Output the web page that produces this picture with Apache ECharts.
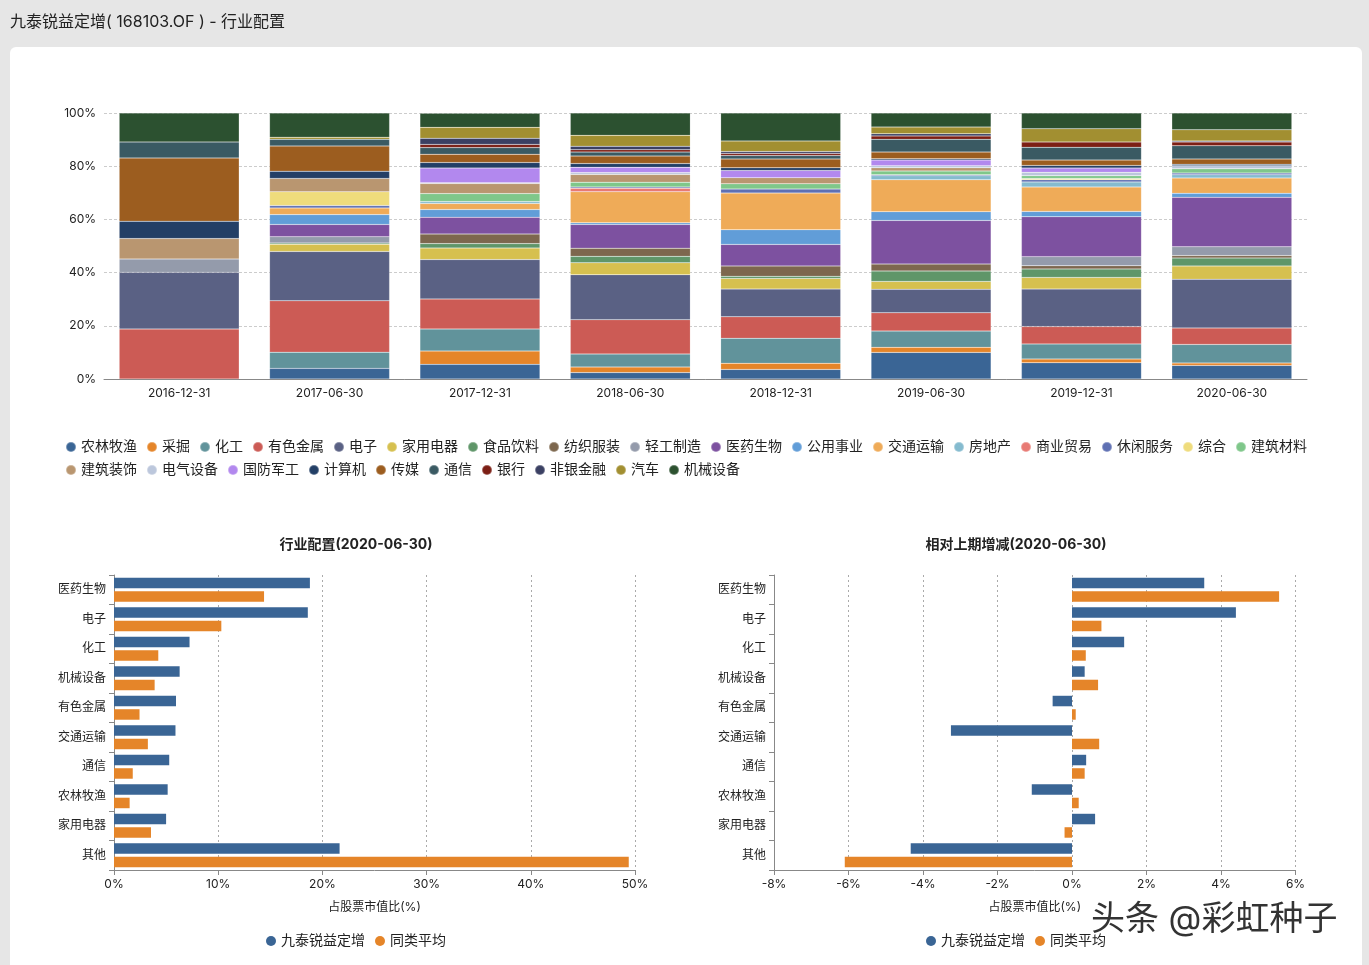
<!DOCTYPE html>
<html>
<head>
<meta charset="utf-8">
<title>行业配置</title>
<script src="https://cdn.jsdelivr.net/npm/echarts@6/dist/echarts.min.js"></script>
<style>
  html, body { margin: 0; padding: 0; background: #e6e6e6; }
  #chart { width: 1369px; height: 965px; }
</style>
</head>
<body>
<div id="chart"></div>
<script>
const dates = ['2016-12-31', '2017-06-30', '2017-12-31', '2018-06-30', '2018-12-31', '2019-06-30', '2019-12-31', '2020-06-30'];

// share of each industry per report date, bottom of the stack first
const nonglin   = [null, 4.0, 5.5, 2.4, 3.6, 10.0, 6.1, 5.1];
const caijue    = [null, null, 5.0, 2.1, 2.3, 1.9, 1.4, 0.9];
const huagong   = [null, 6.1, 8.3, 4.9, 9.4, 6.1, 5.7, 7.0];
const youse     = [18.8, 19.3, 11.3, 12.9, 8.1, 6.9, 6.5, 6.2];
const dianzi    = [21.3, 18.55, 14.8, 16.9, 10.4, 8.8, 14.1, 18.3];
const jiayong   = [null, 2.75, 4.35, 4.5, 4.0, 3.0, 4.4, 5.0];
const shipin    = [null, 0.4, 1.65, 2.4, 0.8, 3.9, 3.2, 3.0];
const fangzhi   = [null, null, 3.6, 3.1, 3.9, 2.6, 1.2, 0.9];
const qinggong  = [5.0, 2.4, null, null, null, null, 3.4, 3.3];
const yiyao     = [null, 4.6, 6.3, 8.9, 8.1, 16.4, 15.0, 18.6];
const gongyong  = [null, 3.7, 2.9, 0.6, 5.5, 3.3, 2.0, 1.5];
const jiaotong  = [null, 2.5, 2.3, 11.7, 13.8, 12.0, 9.2, 5.8];
const fangdichan = [null, null, 0.7, null, null, 1.5, 1.9, 1.2];
const shangye   = [null, null, null, 1.3, null, null, null, null];
const xiuxian   = [null, 0.9, null, 0.5, 1.5, 0.4, 0.8, 0.6];
const zonghe    = [null, 5.2, null, null, null, null, 0.5, null];
const jiancai   = [null, null, 3.0, 1.8, 2.0, 1.4, 1.0, 1.6];
const jianzhu   = [7.7, 5.0, 3.8, 2.9, 2.3, 1.2, null, null];
const dianqi    = [null, null, 0.3, 0.7, null, 0.8, 1.3, 1.2];
const guofang   = [null, null, 5.5, 2.0, 2.7, 2.1, 1.6, null];
const jisuanji  = [6.5, 2.7, 2.1, 1.4, 1.0, 0.5, 1.0, 0.5];
const chuanmei  = [23.8, 9.5, 3.1, 2.8, 3.3, 2.5, 2.0, 2.0];
const tongxin   = [6.0, 2.5, 2.5, 1.5, 1.3, 4.8, 4.8, 5.0];
const yinhang   = [null, null, 1.2, 0.9, 0.8, 1.3, 2.0, 1.4];
const feiyin    = [null, null, 2.3, 1.3, 0.7, 0.8, null, 0.4];
const qiche     = [null, 0.8, 4.1, 4.1, 4.0, 2.5, 5.0, 4.2];
const jixie     = [10.9, 9.1, 5.3, 8.4, 10.5, 5.3, 5.9, 6.3];

const industries = ['农林牧渔', '采掘', '化工', '有色金属', '电子', '家用电器', '食品饮料', '纺织服装', '轻工制造', '医药生物', '公用事业', '交通运输', '房地产', '商业贸易', '休闲服务', '综合', '建筑材料', '建筑装饰', '电气设备', '国防军工', '计算机', '传媒', '通信', '银行', '非银金融', '汽车', '机械设备'];
const industryValues = [nonglin, caijue, huagong, youse, dianzi, jiayong, shipin, fangzhi, qinggong, yiyao, gongyong, jiaotong, fangdichan, shangye, xiuxian, zonghe, jiancai, jianzhu, dianqi, guofang, jisuanji, chuanmei, tongxin, yinhang, feiyin, qiche, jixie];
const industryColors = ['#3a6595', '#e58529', '#61939b', '#cc5b55', '#5a6184', '#d6c04f', '#5f9669', '#7d674e', '#949bab', '#7d51a0', '#619dd8', '#efab58', '#85bbcf', '#e87a74', '#5f70b3', '#efdc7c', '#7fc78a', '#b99670', '#bcc7dc', '#b288ee', '#233f66', '#9c5d1f', '#3a5a63', '#7c1f15', '#3b4063', '#a28f31', '#2c5130'];

// lower charts
const topIndustries = ['医药生物', '电子', '化工', '机械设备', '有色金属', '交通运输', '通信', '农林牧渔', '家用电器', '其他'];
const fundShare = [18.8, 18.6, 7.25, 6.3, 5.95, 5.9, 5.3, 5.15, 5.0, 21.65];
const peerShare = [14.4, 10.3, 4.25, 3.9, 2.45, 3.25, 1.8, 1.5, 3.55, 49.4];
const fundChange = [3.55, 4.4, 1.4, 0.34, -0.52, -3.25, 0.38, -1.08, 0.62, -4.33];
const peerChange = [5.56, 0.79, 0.37, 0.7, 0.1, 0.73, 0.34, 0.18, -0.2, -6.1];

const fundName = '九泰锐益定增';
const peerName = '同类平均';
const blue = '#3a6595';
const orange = '#e58529';

const font = 'Inter, "Noto Sans CJK SC", sans-serif';
const axisGray = '#888';
const pct = '{value}%';

const stackSeries = industries.map((name, i) => ({
  name: name,
  type: 'bar',
  stack: 'all',
  barWidth: 120,
  xAxisIndex: 0,
  yAxisIndex: 0,
  data: industryValues[i],
  itemStyle: { color: industryColors[i], borderColor: 'rgba(255,255,255,0.3)', borderWidth: 0.5 }
}));

function hBar(name, color, values, idx) {
  return {
    name: name, type: 'bar', barWidth: 10.5, barGap: '28%',
    xAxisIndex: idx, yAxisIndex: idx, data: values, itemStyle: { color: color }
  };
}

function lowerX(idx, min, max, interval) {
  return {
    gridIndex: idx, type: 'value', min: min, max: max, interval: interval,
    name: '占股票市值比(%)', nameLocation: 'middle', nameGap: 31,
    nameTextStyle: { color: '#222', fontSize: 12, fontFamily: font },
    axisLine: { show: true, onZero: false, lineStyle: { color: axisGray } },
    axisTick: { show: true, length: 5, lineStyle: { color: axisGray } },
    axisLabel: { formatter: pct, color: '#222', fontSize: 12, fontFamily: font, margin: 8 },
    splitLine: { show: true, lineStyle: { type: [2, 3], color: '#aaa' } }
  };
}

function lowerY(idx) {
  return {
    gridIndex: idx, type: 'category', inverse: true, data: topIndustries,
    axisLine: { show: true, onZero: false, lineStyle: { color: axisGray } },
    axisTick: { show: true, length: 5, alignWithLabel: false, lineStyle: { color: axisGray } },
    axisLabel: { color: '#222', fontSize: 12, fontFamily: font, margin: 8 }
  };
}

function lowerLegend(cx) {
  return {
    data: [fundName, peerName], left: cx, top: 929, icon: 'circle',
    itemWidth: 10, itemHeight: 10, itemGap: 10,
    textStyle: { color: '#222', fontSize: 14, fontFamily: font }
  };
}

const option = {
  backgroundColor: '#e6e6e6',
  animation: false,
  title: [
    { text: '行业配置(2020-06-30)', left: 351, top: 533, textAlign: 'center',
      textStyle: { fontSize: 14, fontWeight: 'bold', color: '#222', fontFamily: font } },
    { text: '相对上期增减(2020-06-30)', left: 1011, top: 533, textAlign: 'center',
      textStyle: { fontSize: 14, fontWeight: 'bold', color: '#222', fontFamily: font } }
  ],
  legend: [
    { data: industries, left: 60, top: 435, width: 1255, icon: 'circle',
      itemWidth: 10, itemHeight: 10, itemGap: 9,
      textStyle: { color: '#222', fontSize: 14, fontFamily: font } },
    lowerLegend(261),
    lowerLegend(921)
  ],
  graphic: [
    { type: 'rect', z: -10, silent: true,
      shape: { x: 10, y: 47, width: 1352, height: 930, r: 6 }, style: { fill: '#fff' } },
    { type: 'text', x: 10, y: 14, silent: true,
      style: { text: '九泰锐益定增( 168103.OF ) - 行业配置', fill: '#222', fontSize: 16, fontFamily: font } },
    { type: 'text', x: 1091, y: 903, z: 100, silent: true,
      style: { text: '头条 @彩虹种子', fill: '#333', stroke: '#fff', lineWidth: 3, fontSize: 34, fontFamily: font } }
  ],
  grid: [
    { left: 104, right: 62, top: 113, height: 266, containLabel: false },
    { left: 114, width: 521, top: 575, height: 295 },
    { left: 774, width: 521.5, top: 575, height: 295 }
  ],
  xAxis: [
    { gridIndex: 0, type: 'category', data: dates,
      axisLine: { lineStyle: { color: axisGray } },
      axisTick: { length: 5, lineStyle: { color: axisGray } },
      axisLabel: { color: '#222', fontSize: 12, fontFamily: font, margin: 8 } },
    lowerX(1, 0, 50, 10),
    lowerX(2, -8, 6, 2)
  ],
  yAxis: [
    { gridIndex: 0, type: 'value', min: 0, max: 100, interval: 20,
      axisLabel: { formatter: pct, color: '#222', fontSize: 12, fontFamily: font, margin: 8 },
      axisLine: { show: false }, axisTick: { show: false },
      splitLine: { lineStyle: { type: [3, 2], color: '#ccc' } } },
    lowerY(1),
    lowerY(2)
  ],
  series: stackSeries.concat([
    hBar(fundName, blue, fundShare, 1),
    hBar(peerName, orange, peerShare, 1),
    hBar(fundName, blue, fundChange, 2),
    hBar(peerName, orange, peerChange, 2)
  ])
};

echarts.init(document.getElementById('chart')).setOption(option);
</script>
</body>
</html>
